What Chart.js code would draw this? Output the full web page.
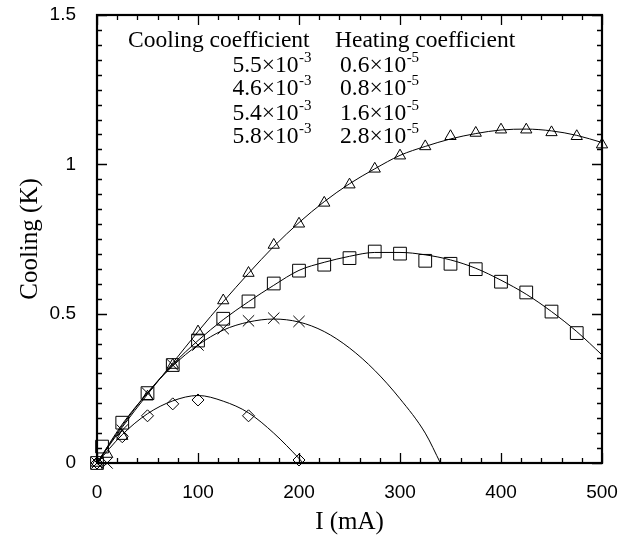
<!DOCTYPE html>
<html>
<head>
<meta charset="utf-8">
<script src="https://cdn.jsdelivr.net/npm/chart.js@4.4.1/dist/chart.umd.min.js"></script>
<style>
  html, body { margin: 0; padding: 0; background: #fff; }
  #wrap { width: 623px; height: 539px; }
</style>
</head>
<body>
<div id="wrap"><canvas id="c" width="623" height="539"></canvas></div>
<script>
// ---- measured points (I in mA, cooling in K) ----
const triI = [0, 10, 25, 50, 75, 100, 125, 150, 175, 200, 225, 250, 275, 300, 325, 350, 375, 400, 425, 450, 475, 500];
const triK = [0, 0.03, 0.09, 0.222, 0.328, 0.44, 0.544, 0.636, 0.73, 0.801, 0.871, 0.932, 0.985, 1.029, 1.06, 1.094, 1.105, 1.116, 1.116, 1.107, 1.094, 1.066];

const sqI = [0, 5, 25, 50, 75, 100, 125, 150, 175, 200, 225, 250, 275, 300, 325, 350, 375, 400, 425, 450, 475];
const sqK = [0, 0.055, 0.135, 0.234, 0.328, 0.41, 0.483, 0.541, 0.601, 0.644, 0.664, 0.686, 0.708, 0.701, 0.677, 0.667, 0.649, 0.607, 0.571, 0.507, 0.435];

const crI = [0, 10, 25, 50, 75, 100, 125, 150, 175, 200];
const crK = [0, 0.0, 0.11, 0.234, 0.328, 0.395, 0.45, 0.476, 0.485, 0.474];

const diI = [0, 25, 50, 75, 100, 150, 200];
const diK = [0, 0.088, 0.158, 0.198, 0.211, 0.158, 0.01];

// ---- fitted curves ----
const fitI = [0, 25, 50, 75, 100, 125, 150, 175, 200, 225, 250, 275, 300, 325, 350, 375, 400, 425, 450, 475, 500];
const fitTri = [0, 0.12, 0.23, 0.335, 0.44, 0.54, 0.635, 0.725, 0.805, 0.875, 0.935, 0.985, 1.03, 1.06, 1.085, 1.103, 1.115, 1.118, 1.112, 1.097, 1.073];
const fitSq = [0, 0.13, 0.235, 0.33, 0.41, 0.48, 0.54, 0.595, 0.645, 0.672, 0.692, 0.705, 0.705, 0.697, 0.68, 0.652, 0.612, 0.565, 0.507, 0.44, 0.362];
const fitCrI = [0, 25, 50, 75, 100, 125, 150, 175, 200, 225, 250, 275, 300, 325, 340];
const fitCr = [0, 0.125, 0.235, 0.325, 0.395, 0.445, 0.472, 0.482, 0.472, 0.44, 0.385, 0.31, 0.215, 0.1, 0];
const fitDiI = [0, 25, 50, 75, 100, 125, 150, 175, 200, 204];
const fitDi = [0, 0.095, 0.165, 0.208, 0.226, 0.207, 0.168, 0.1, 0.015, 0];

// ---- tick labels and annotation text ----
const xTickLabels = ['0', '100', '200', '300', '400', '500'];
const yTickLabels = ['0', '0.5', '1', '1.5'];
const coolHeader = 'Cooling coefficient';
const heatHeader = 'Heating coefficient';
const coolMant = ['5.5', '4.6', '5.4', '5.8'];
const coolExp = '-3';
const heatMant = ['0.6', '0.8', '1.6', '2.8'];
const heatExp = '-5';

const xTitle = 'I (mA)';
const yTitle = 'Cooling (K)';

const SERIF = "'Liberation Serif', 'Times New Roman', serif";
const SANS = "'Liberation Sans', Arial, sans-serif";

function pts(xs, ys) { return xs.map((x, i) => ({ x: x, y: ys[i] })); }

function markerSet(xs, ys, style, r) {
  return {
    data: pts(xs, ys), showLine: false, pointStyle: style, pointRadius: r, pointHoverRadius: r,
    pointBorderColor: '#000', pointBackgroundColor: 'rgba(0,0,0,0)', pointBorderWidth: 1, clip: false
  };
}
function curveSet(xs, ys) {
  return {
    data: pts(xs, ys), showLine: true, borderColor: '#000', borderWidth: 1, pointRadius: 0,
    cubicInterpolationMode: 'monotone', fill: false
  };
}
function zeroPad(s) { s.paddingLeft = 0; s.paddingRight = 0; s.paddingTop = 0; s.paddingBottom = 0; }

const frameTicks = {
  id: 'frameTicks',
  afterDraw(chart) {
    const { ctx, chartArea: a, scales: { x, y } } = chart;
    ctx.save();
    ctx.strokeStyle = '#000';
    ctx.lineWidth = 1.3;
    ctx.beginPath();
    for (let v = 0; v <= 500.001; v += 20) {
      const px = Math.round(x.getPixelForValue(v)) + 0.5;
      const len = (Math.abs(v % 100) < 1e-6) ? 10 : 5;
      ctx.moveTo(px, a.bottom); ctx.lineTo(px, a.bottom - len);
      ctx.moveTo(px, a.top); ctx.lineTo(px, a.top + len);
    }
    for (let i = 0; i <= 30; i++) {
      const v = i * 0.05;
      const py = Math.round(y.getPixelForValue(v)) + 0.5;
      const len = (i % 10 === 0) ? 10 : 5;
      ctx.moveTo(a.left, py); ctx.lineTo(a.left + len, py);
      ctx.moveTo(a.right, py); ctx.lineTo(a.right - len, py);
    }
    ctx.stroke();
    ctx.lineWidth = 2.2;
    ctx.strokeRect(a.left, a.top, a.right - a.left, a.bottom - a.top);

    // annotation
    ctx.fillStyle = '#000';
    ctx.textBaseline = 'alphabetic';
    const big = '23.5px ' + SERIF, small = '15px ' + SERIF;
    ctx.font = big;
    ctx.textAlign = 'left';
    ctx.fillText(coolHeader, 128, 47);
    ctx.fillText(heatHeader, 335, 47);
    const rightEdge = 311, heatLeft = 340;
    const rows = [72, 95, 120, 143];
    rows.forEach((by, i) => {
      ctx.font = big;
      const m1 = coolMant[i] + '\u00d710';
      const w1 = ctx.measureText(m1).width;
      ctx.font = small;
      const e1 = ctx.measureText(coolExp).width;
      const sx = rightEdge - e1 - w1;
      ctx.font = big;
      ctx.fillText(m1, sx, by);
      ctx.font = small;
      ctx.fillText(coolExp, sx + w1 + 0.5, by - 10);
      ctx.font = big;
      const m2 = heatMant[i] + '\u00d710';
      const w2 = ctx.measureText(m2).width;
      ctx.fillText(m2, heatLeft, by);
      ctx.font = small;
      ctx.fillText(heatExp, heatLeft + w2 + 0.5, by - 10);
    });
    ctx.restore();
  }
};

new Chart(document.getElementById('c'), {
  type: 'line',
  data: {
    datasets: [
      curveSet(fitI, fitTri),
      curveSet(fitI, fitSq),
      curveSet(fitCrI, fitCr),
      curveSet(fitDiI, fitDi),
      markerSet(triI, triK, 'triangle', 6.5),
      markerSet(sqI, sqK, 'rect', 9),
      markerSet(crI, crK, 'crossRot', 8),
      markerSet(diI, diK, 'rectRot', 6)
    ]
  },
  options: {
    responsive: false,
    animation: false,
    events: [],
    layout: { padding: { left: 0, top: 15, right: 21, bottom: 0 } },
    plugins: { legend: { display: false }, tooltip: { enabled: false } },
    scales: {
      x: {
        type: 'linear', min: 0, max: 500,
        afterFit(s) { s.height = 76; zeroPad(s); },
        grid: { display: false, drawTicks: false },
        border: { display: false },
        ticks: {
          stepSize: 100, padding: 18, color: '#000', font: { family: SANS, size: 19 }, maxRotation: 0,
          callback: (v) => xTickLabels[Math.round(v / 100)]
        },
        title: { display: true, text: xTitle, color: '#000', font: { family: SERIF, size: 25 }, padding: { top: 0, bottom: 2 } }
      },
      y: {
        type: 'linear', min: 0, max: 1.5,
        afterFit(s) { s.width = 97; zeroPad(s); },
        grid: { display: false, drawTicks: false },
        border: { display: false },
        ticks: {
          stepSize: 0.5, padding: 21, color: '#000', font: { family: SANS, size: 19 },
          callback: (v) => yTickLabels[Math.round(v / 0.5)]
        },
        title: { display: true, text: yTitle, color: '#000', font: { family: SERIF, size: 25 }, padding: { top: 15, bottom: 0 } }
      }
    }
  },
  plugins: [frameTicks]
});
</script>
</body>
</html>
